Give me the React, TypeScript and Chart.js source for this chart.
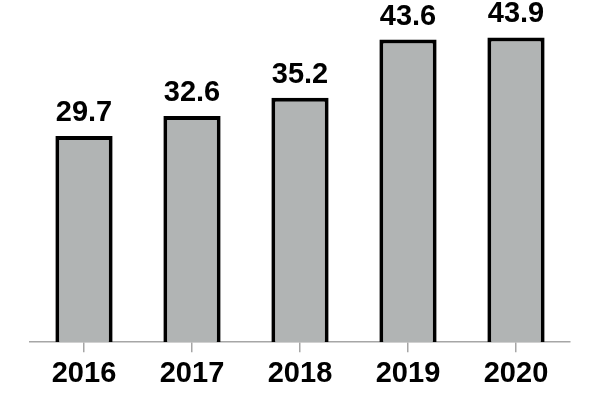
import React, { useEffect, useRef } from "react";
import { Chart, registerables } from "chart.js";

Chart.register(...registerables);

const categories = ["2016", "2017", "2018", "2019", "2020"];
const values = [29.7, 32.6, 35.2, 43.6, 43.9];

const FONT = "'Liberation Sans', Arial, Helvetica, sans-serif";

const valueLabels = {
  id: "valueLabels",
  afterDatasetsDraw(chart: any) {
    const ctx = chart.ctx;
    const meta = chart.getDatasetMeta(0);
    ctx.save();
    ctx.font = `bold 29px ${FONT}`;
    ctx.fillStyle = "#000";
    ctx.textAlign = "center";
    ctx.textBaseline = "alphabetic";
    meta.data.forEach((bar: any, i: number) => {
      ctx.fillText(values[i].toFixed(1), bar.x, bar.y - 15);
    });
    ctx.restore();
  },
};

export default function App() {
  const ref = useRef<HTMLCanvasElement>(null);
  useEffect(() => {
    if (!ref.current) return;
    const chart = new Chart(ref.current, {
      type: "bar",
      data: {
        labels: categories,
        datasets: [
          {
            data: values,
            backgroundColor: "#b1b4b4",
            borderColor: "#000",
            borderWidth: 4,
            borderSkipped: "bottom",
            categoryPercentage: 1,
            barPercentage: 0.53,
          },
        ],
      },
      options: {
        responsive: false,
        animation: false,
        layout: { padding: { top: 9, left: 30, right: 30, bottom: 25 } },
        plugins: { legend: { display: false }, tooltip: { enabled: false } },
        scales: {
          x: {
            offset: true,
            grid: {
              display: true,
              offset: false,
              drawOnChartArea: false,
              drawTicks: true,
              tickLength: 10,
              color: "#a6a6a6",
              tickColor: "#a6a6a6",
              tickWidth: 1.5,
              lineWidth: 1.5,
            },
            border: { display: true, color: "#a6a6a6", width: 1.5 },
            ticks: {
              color: "#000",
              padding: 4,
              font: { size: 29, weight: "bold", family: FONT },
            },
          },
          y: {
            display: false,
            min: 0,
            max: 48,
          },
        },
      },
      plugins: [valueLabels],
    });
    return () => chart.destroy();
  }, []);
  return (
    <div style={{ position: "fixed", left: 0, top: 0, width: 600, height: 420, background: "#fff" }}>
      <canvas ref={ref} width={600} height={420} />
    </div>
  );
}
